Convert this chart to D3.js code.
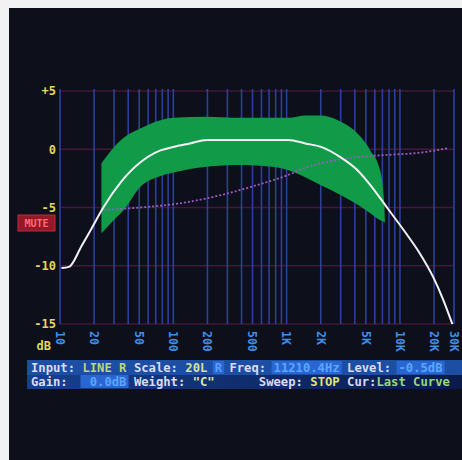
<!DOCTYPE html>
<html>
<head>
<meta charset="utf-8">
<script src="https://cdn.jsdelivr.net/npm/d3@7"></script>
<style>
  html, body { margin: 0; padding: 0; background: #f2f2f2; }
  svg { display: block; }
</style>
</head>
<body>
<svg id="chart" width="462" height="460"></svg>
<script>
// ---- axis ticks ----
const dbTicks = [5, 0, -5, -10, -15];
const dbLabels = ["+5", "0", "-5", "-10", "-15"];
const freqTicks = [10, 20, 50, 100, 200, 500, 1000, 2000, 5000, 10000, 20000, 30000];
const freqLabels = ["10", "20", "50", "100", "200", "500", "1K", "2K", "5K", "10K", "20K", "30K"];

// ---- measured response (last curve) ----
const curveFreq = [10.3, 12.0, 15.5, 19.0, 24.1, 34.6, 51.6, 77, 100, 140, 197, 382, 739, 1039, 1460, 2012, 3001, 4220, 5930, 7690, 11480, 14890, 19720, 24060, 29000];
const curveDb   = [-10.2, -10.1, -8.3, -6.8, -5.0, -2.8, -1.1, -0.1, 0.2, 0.5, 0.8, 0.8, 0.8, 0.8, 0.5, 0.2, -0.7, -1.8, -3.5, -5.0, -7.3, -8.9, -11.0, -12.9, -15.0];

// ---- tolerance band ----
const bandFreq  = [23.2, 28.3, 36.7, 51.6, 77, 100, 197, 382, 739, 1039, 1460, 2012, 2827, 3973, 5473, 6688, 7243, 7390];
const bandUpper = [-1.2, -0.1, 1.0, 1.8, 2.5, 2.7, 2.8, 2.7, 2.7, 2.7, 2.9, 2.9, 2.5, 1.6, -0.1, -1.8, -4.4, -6.3];
const bandLower = [-7.2, -6.3, -5.2, -3.2, -2.3, -2.0, -1.5, -1.35, -1.5, -1.8, -2.4, -3.1, -3.8, -4.6, -5.5, -6.1, -6.25, -6.3];

// ---- reference curve (dotted) ----
const refFreq = [24.6, 51.6, 122, 272, 537, 1039, 1550, 2012, 3973, 7244, 14890, 27000];
const refDb   = [-5.2, -5.0, -4.6, -3.9, -3.1, -2.2, -1.5, -1.2, -0.7, -0.5, -0.3, 0.1];

// ---- status lines: [text, role] ----
const statusRow1 = [
  ["Input:", "label"], [" ", "gap"], ["LINE R", "input"], [" ", "gap"],
  ["Scale:", "label"], [" ", "gap"], ["20L", "scale"], [" ", "gap"], ["R", "chan"], [" ", "gap"],
  ["Freq:", "label"], [" ", "gap"], ["11210.4Hz", "field"], [" ", "gap"],
  ["Level:", "label"], [" ", "gap"], ["-0.5dB", "field"]
];
const statusRow2 = [
  ["Gain:", "label"], ["  ", "gap"], [" 0.0dB", "field"], [" ", "gap"],
  ["Weight:", "label"], [" ", "gap"], ["\"C\"", "weight"], ["      ", "gap"],
  ["Sweep:", "label"], [" ", "gap"], ["STOP", "sweep"], [" ", "gap"],
  ["Cur:", "label"], ["Last Curve", "cur"]
];

const roleColor = {
  label: "#dcdcf6", input: "#b8d878", scale: "#d4e29a", chan: "#5a9cff",
  field: "#5aa6ff", weight: "#dce8a8", sweep: "#e2e27a", cur: "#9ad878", gap: "none"
};

const svg = d3.select("#chart");
const W = 462, H = 460;

// screen face
svg.append("rect").attr("width", W).attr("height", H).attr("fill", "#f2f2f2");
svg.append("rect").attr("x", 9).attr("y", 8).attr("width", W - 9).attr("height", H - 8).attr("fill", "#0d0f1b");

const x = d3.scaleLog().domain([10, 30000]).range([60, 454]);
const y = d3.scaleLinear().domain([-15, 5]).range([324, 91]);

// horizontal dB grid
svg.append("g").selectAll("line").data(dbTicks).join("line")
  .attr("x1", x(10)).attr("x2", x(30000))
  .attr("y1", d => y(d)).attr("y2", d => y(d))
  .attr("stroke", "#4e1a3e").attr("stroke-width", 1.5).attr("opacity", 0.85);

// vertical log grid
svg.append("g").selectAll("line").data(x.ticks()).join("line")
  .attr("x1", d => x(d)).attr("x2", d => x(d))
  .attr("y1", y(5) - 2).attr("y2", y(-15))
  .attr("stroke", "#3148b4").attr("stroke-width", 1.6).attr("opacity", 0.85);

// tolerance band
const bandData = bandFreq.map((f, i) => ({ f, hi: bandUpper[i], lo: bandLower[i] }));
svg.append("path").datum(bandData)
  .attr("d", d3.area().x(d => x(d.f)).y0(d => y(d.lo)).y1(d => y(d.hi)).curve(d3.curveMonotoneX))
  .attr("fill", "#119a48");

// dotted reference
const refData = refFreq.map((f, i) => ({ f, v: refDb[i] }));
svg.append("path").datum(refData)
  .attr("d", d3.line().x(d => x(d.f)).y(d => y(d.v)).curve(d3.curveMonotoneX))
  .attr("fill", "none").attr("stroke", "#9a5cc2").attr("stroke-width", 1.8)
  .attr("stroke-dasharray", "2,2");

// measured curve
const curveData = curveFreq.map((f, i) => ({ f, v: curveDb[i] }));
svg.append("path").datum(curveData)
  .attr("d", d3.line().x(d => x(d.f)).y(d => y(d.v)).curve(d3.curveMonotoneX))
  .attr("fill", "none").attr("stroke", "#f2f2f6").attr("stroke-width", 2);

const mono = "'DejaVu Sans Mono', 'Liberation Mono', monospace";

// dB labels
svg.append("g").selectAll("text").data(dbTicks).join("text")
  .attr("x", 56).attr("y", d => y(d)).attr("dy", "0.36em")
  .attr("text-anchor", "end")
  .attr("font-family", mono).attr("font-weight", "bold").attr("font-size", 12)
  .attr("fill", "#e6d65a")
  .text((d, i) => dbLabels[i]);
svg.append("text").attr("x", 51).attr("y", 350)
  .attr("text-anchor", "end")
  .attr("font-family", mono).attr("font-weight", "bold").attr("font-size", 12)
  .attr("fill", "#e6d65a").text("dB");

// MUTE indicator
svg.append("rect").attr("x", 18).attr("y", 215).attr("width", 37).attr("height", 16)
  .attr("fill", "#941828").attr("stroke", "#c02a3a").attr("stroke-width", 1);
svg.append("text").attr("x", 36.5).attr("y", 223).attr("dy", "0.36em")
  .attr("text-anchor", "middle")
  .attr("font-family", mono).attr("font-weight", "bold").attr("font-size", 10)
  .attr("fill", "#ff6a7a").text("MUTE");

// frequency labels (vertical)
svg.append("g").selectAll("text").data(freqTicks).join("text")
  .attr("transform", d => `translate(${x(d)},331) rotate(90)`)
  .attr("dy", "0.36em")
  .attr("font-family", mono).attr("font-weight", "bold").attr("font-size", 11.5)
  .attr("fill", "#3f8ee6")
  .text((d, i) => freqLabels[i]);

// status strip
const defs = svg.append("defs");
const g1 = defs.append("linearGradient").attr("id", "row2bg").attr("x1", 0).attr("x2", 1);
g1.append("stop").attr("offset", 0).attr("stop-color", "#16408e");
g1.append("stop").attr("offset", 1).attr("stop-color", "#0a1a4c");
svg.append("rect").attr("x", 27).attr("y", 360).attr("width", W - 27).attr("height", 15).attr("fill", "#1c4ea4");
svg.append("rect").attr("x", 27).attr("y", 375).attr("width", W - 27).attr("height", 14).attr("fill", "url(#row2bg)");

const cw = 7.35, x0 = 31;
function drawRow(segs, baseline, top, h) {
  let col = 0;
  segs.forEach(([txt, role]) => {
    const sx = x0 + col * cw;
    if (role === "field" || role === "chan") {
      svg.append("rect").attr("x", sx - 2).attr("y", top).attr("width", txt.length * cw + 4).attr("height", h)
        .attr("fill", "#2a66d2");
    }
    if (role !== "gap") {
      svg.append("text").attr("x", sx).attr("y", baseline)
        .attr("font-family", mono).attr("font-weight", "bold").attr("font-size", 12.2)
        .attr("fill", roleColor[role]).attr("xml:space", "preserve")
        .text(txt);
    }
    col += txt.length;
  });
}
drawRow(statusRow1, 372, 361, 13);
drawRow(statusRow2, 386, 375, 13);
</script>
</body>
</html>
